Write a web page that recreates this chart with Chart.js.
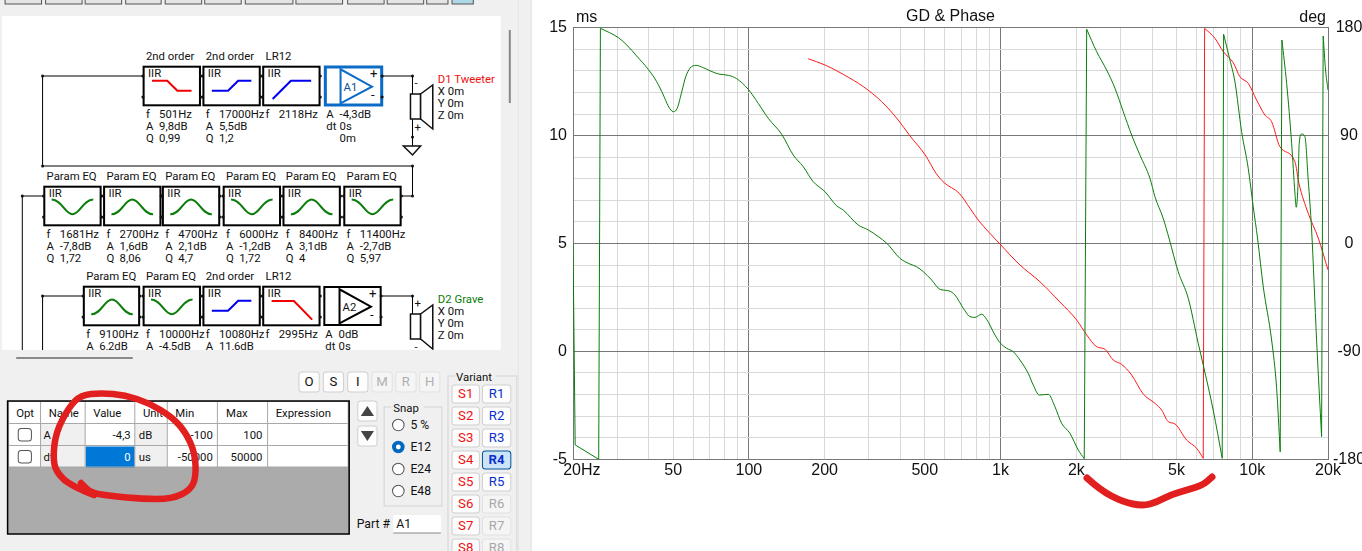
<!DOCTYPE html>
<html>
<head>
<meta charset="utf-8">
<title>GD & Phase</title>
<script src="https://cdn.jsdelivr.net/npm/chart.js@4"></script>
<style>
html,body{margin:0;padding:0;background:#fff;overflow:hidden;width:1362px;height:551px}
#panel{position:absolute;left:0;top:0;width:532px;height:551px}
#chart{position:absolute;left:532px;top:0}
#ink{position:absolute;left:0;top:0;width:1362px;height:551px;pointer-events:none}
text{font-family:Roboto,"Liberation Sans",Arial,sans-serif;font-size:11.2px;fill:#111}
</style>
</head>
<body>
<div id="panel"></div>
<canvas id="chart" width="830" height="551"></canvas>
<svg id="ink" viewBox="0 0 1362 551"></svg>
<script>
// ---------- chart data (frequency in Hz, phase in degrees) ----------
const greenFreq = [20,20.4,25.3,25.7,30.3,32.7,35.8,39.8,43,45.7,47.8,50.1,51.9,54.1,56.1,58.3,61.6,65.9,70,75.6,82.8,89.4,99.4,108.9,119.4,135,150,164.4,180.2,200.6,223,237,272,298,327,353,398,436,464,493,532,574,620,659,711,756,791,841,880,950,994,1057,1122,1194,1288,1348,1425,1547,1644,1748,1886,2035,2150,2199,2409,2639,2848,3072,3317,3578,3922,4106,4428,4678,5080,5568,6100,6386,6996,7598,7696,8154,8534,9074,9640,10090,10506,11060,11940,12500,12914,13120,13700,14340,14780,14956,15188,15372,15712,16192,16688,17216,18018,18860,19140,19560,20000];
const greenDeg = [0,-168,-180,179.5,171.7,165.6,156.4,145.3,135,123.9,114.7,109.9,112.8,126.6,139.1,146.1,148.6,146.6,144.1,141.4,140.3,137.5,128.6,116.9,104.4,91.1,73.8,64.1,51.5,43.2,31.5,27.9,15.4,11.3,5.7,0.2,-12.3,-17.1,-19.4,-23.5,-30.4,-38.2,-39.4,-43,-54,-61,-61.6,-59,-63.2,-76.3,-82.7,-87.4,-90.2,-97.2,-108.3,-118,-126.4,-125.8,-136.1,-150,-158.3,-172.2,-179.5,178.7,160,144.7,129.5,110,90.5,73.8,54.4,39,21,3.8,-23.5,-45.7,-83.2,-101.3,-138.9,-179.2,174.5,153.1,135,93.3,62.7,30.7,3.8,-36,-80.5,-120.8,-173.7,169.7,133.6,83.6,41.9,30.2,47.4,83.6,91.3,89.1,53,11.3,-80.5,-161.1,173,144.7,128];
const redFreq = [172,200.6,237,285,337,392,436,502,554,597,685,756,815,994,1194,1434,1721,2006,2199,2409,2598,2803,3027,3317,3688,4106,4364,4637,4930,5484,6012,6386,6468,7106,7670,8404,8934,9640,10406,11228,11940,12880,14780,15328,16688,18288,20000];
const redDeg = [154.1,148.9,141.1,130.8,118.3,103,89.9,73.8,58.6,50.7,41.9,29.4,19.6,-0.4,-17.9,-31.9,-48.8,-63.8,-76.3,-86.1,-88.2,-97.2,-100.8,-109.7,-125.5,-133.3,-138.9,-148.6,-150.5,-163.9,-170.8,-179.2,179.5,171.2,160,150.8,139.1,133.6,119.7,107.2,101.6,80.7,68.2,50.2,25.2,4.6,-22];
const xGridValues = [20,30,40,50,60,70,80,90,100,200,300,400,500,600,700,800,900,1000,2000,3000,4000,5000,6000,7000,8000,9000,10000,20000];
const xLabelValues = [20,50,100,200,500,1000,2000,5000,10000,20000];
const xLabels = ["    20Hz","50","100","200","500","1k","2k","5k","10k","20k"];
const leftTicks = [-5,0,5,10,15];
const rightTicks = [-180,-90,0,90,180];
const xDark = [100,1000,10000];

// a phase wrap is a big step between two neighbouring samples
const isWrap = (a,i) => Math.abs(a[i+1]-a[i]) > 120;
function curvePieces(f,d){ const o=[]; f.forEach((v,i)=>{ o.push({x:v,y:d[i]}); if(i<f.length-1&&isWrap(d,i)) o.push({x:(v+f[i+1])/2,y:null}); }); return o; }
function wrapLines(f,d){ const o=[]; f.forEach((v,i)=>{ if(i<f.length-1&&isWrap(d,i)) o.push({x:v,y:d[i]},{x:f[i+1],y:d[i+1]},{x:f[i+1]*1.0001,y:null}); }); return o; }

const GRID = '#d9d9d9', DARK = '#777777';
const GREEN = '#0a7d0a', RED = '#ff1a1a';
const ds = (data,c,mono) => ({data,borderColor:c,borderWidth:1,pointRadius:0,spanGaps:false,yAxisID:'y1',xAxisID:'x',
  ...(mono?{cubicInterpolationMode:'monotone'}:{tension:0})});

new Chart(document.getElementById('chart'), {
  type: 'line',
  data: { datasets: [
    ds(curvePieces(greenFreq,greenDeg),GREEN,true),
    ds(wrapLines(greenFreq,greenDeg),GREEN,false),
    ds(curvePieces(redFreq,redDeg),RED,true),
    ds(wrapLines(redFreq,redDeg),RED,false)
  ]},
  options: {
    responsive:false, animation:false, devicePixelRatio:1,
    layout:{padding:0},
    plugins:{
      legend:{display:false}, tooltip:{enabled:false},
      title:{display:true,text:'GD & Phase',fullSize:false,color:'#111',
        font:{family:'"Liberation Sans"',size:16,weight:'normal'},padding:{top:7,bottom:1.5}}
    },
    scales:{
      x:{type:'logarithmic',min:20,max:20000,
        afterBuildTicks:s=>{s.ticks=xGridValues.map(v=>({value:v}));},
        afterFit:s=>{s.height=91.7;},
        ticks:{autoSkip:false,maxRotation:0,minRotation:0,padding:2,color:'#111',
          font:{family:'"Liberation Sans"',size:16},
          callback:v=>{const i=xLabelValues.indexOf(v);return i<0?'':xLabels[i];}},
        grid:{drawTicks:false,lineWidth:1,color:c=>xDark.includes(c.tick&&c.tick.value)?DARK:GRID},
        border:{color:DARK}
      },
      y:{position:'left',min:-5,max:15,
        afterFit:s=>{s.width=41;},
        ticks:{stepSize:1,autoSkip:false,padding:6,color:'#111',
          font:{family:'"Liberation Sans"',size:16},
          callback:v=>leftTicks.includes(v)?String(v):''},
        grid:{drawTicks:false,lineWidth:1,color:c=>leftTicks.includes(c.tick&&c.tick.value)?DARK:GRID},
        border:{color:DARK}
      },
      y1:{position:'right',min:-180,max:180,
        afterFit:s=>{s.width=34;},
        ticks:{stepSize:18,autoSkip:false,padding:5,color:'#111',crossAlign:'center',
          font:{family:'"Liberation Sans"',size:16},
          callback:v=>rightTicks.includes(v)?String(v):''},
        grid:{drawOnChartArea:false,drawTicks:false},
        border:{color:DARK}
      }
    }
  },
  plugins:[{id:'units',afterDraw(c){
    const g=c.ctx,a=c.chartArea;
    g.save();g.fillStyle='#111';g.font='16px "Liberation Sans"';g.textBaseline='alphabetic';
    g.textAlign='left';g.fillText('ms',a.left+3,22);
    g.textAlign='right';g.fillText('deg',a.right-2,22);
    g.restore();
  }}]
});

// ---------- surrounding editor window (not chart data) ----------
const esc=s=>String(s).replace(/&/g,'&amp;').replace(/</g,'&lt;');
const T=(x,y,s,o={})=>`<text x="${x}" y="${y}" ${o.a?`text-anchor="${o.a}"`:''} style="${o.c?`fill:${o.c};`:''}${o.w?'font-weight:bold;':''}${o.z?`font-size:${o.z}px;`:''}">${esc(s)}</text>`;
const R=(x,y,w,h,f,s,sw=1,r=0)=>`<rect x="${x}" y="${y}" width="${w}" height="${h}" fill="${f}" stroke="${s}" stroke-width="${sw}" rx="${r}"/>`;
const L=(pts,c='#000',w=1)=>`<polyline points="${pts}" fill="none" stroke="${c}" stroke-width="${w}"/>`;
const D=(x,y)=>`<circle cx="${x}" cy="${y}" r="1.5" fill="#111"/>`;

function icon(k,x,y){
  const p=(a)=>a.map(q=>`${x+q[0]},${y+q[1]}`).join(' ');
  if(k==='sd')return L(p([[9,14.7],[24,14.7],[34,24.7],[48,24.7]]),'#f00000',2);
  if(k==='su')return L(p([[9,24.7],[25,24.7],[35,14.7],[48,14.7]]),'#0000f0',2);
  if(k==='hp')return L(p([[10,33],[28,14.7],[48,14.7]]),'#0000f0',2);
  if(k==='lp')return L(p([[9,15],[31,15],[49,33.6]]),'#f00000',2);
  const a=k==='dip'?13.6:28.3,b=k==='dip'?28.3:13.6;
  return `<path d="M${x+8},${y+a} C${x+18},${y+a} ${x+21},${y+b} ${x+28.5},${y+b} C${x+36},${y+b} ${x+39},${y+a} ${x+49},${y+a}" fill="none" stroke="#0a7d0a" stroke-width="2"/>`;
}
function block(x,y,w,title,k,lines){
  let s=T(x+3,y-6,title)+R(x+.7,y+.7,w-1.4,38.6,'#fff','#000',2)+T(x+5,y+11,'IIR')+icon(k,x,y);
  s+=D(x,y+10)+D(x,y+31)+D(x+w,y+10)+D(x+w,y+31);
  lines.forEach((l,i)=>{s+=T(x+3,y+52+i*12,l[0])+T(x+16,y+52+i*12,l[1]);});
  return s;
}
function amp(x,y,name,col,sw,lines){
  let s=R(x+1,y+1,55.6,38,'#fff',col,sw);
  s+=`<polygon points="${x+16},${y+3.3} ${x+16},${y+37.3} ${x+47},${y+20.7}" fill="#fff" stroke="${col}" stroke-width="2"/>`;
  s+=T(x+19,y+25,name,{c:col==='#000'?'#111':'#0b4f9c'})+T(x+45,y+12,'+',{z:13})+T(x+46,y+33,'-',{z:13});
  lines.forEach((l,i)=>{s+=T(x+2,y+52+i*12,l[0])+T(x+15,y+52+i*12,l[1]);});
  return s+D(x+57,y+10)+D(x+57,y+31);
}
function speaker(y,top,bot,name,col){
  let s=L(`407,${y} 407,${y+18}`)+R(405,y+18,10,25,'#fff','#111',1.5);
  s+=`<polygon points="415,${y+18} 427,${y+9} 427,${y+53} 415,${y+43}" fill="#fff" stroke="#111" stroke-width="1.5"/>`;
  s+=T(409,y+11,top)+T(409,y+55,bot);
  s+=T(432,y+7,name,{c:col})+T(432,y+19,'X 0m')+T(432,y+31,'Y 0m')+T(432,y+43,'Z 0m');
  return s;
}
function button(x,y,w,h,t,o={}){
  return R(x,y,w,h,o.f||'#fdfdfd',o.b||'#d0d0d0',1,3)+T(x+w/2,y+h/2+4.5,t,{a:'middle',c:o.c||'#111',w:o.w,z:13});
}
let s=`<svg xmlns="http://www.w3.org/2000/svg" width="532" height="551" viewBox="0 0 524.9 551" preserveAspectRatio="none">`;
s+=R(0,0,525,551,'#f0f0f0','none',0);
[[5,36],[45,36],[84,36],[124,35],[163,36],[202,36],[242,47],[292,46],[343,36],[382,36],[421,21]].forEach(b=>{s+=R(b[0],-3,b[1],7,'#e4e4e4','#555',1);});
s+=R(446,-3,21,7,'#add8e6','#555',1);
s+=R(2,16,492,334,'#fff','none',0);
s+=`<clipPath id="cl"><rect x="2" y="16" width="492" height="334"/></clipPath><g clip-path="url(#cl)">`;
// wires
s+=L('141,76 42,76 42,166 407,166 407,196 396,196')+L('43,196 22,196 22,352')+L('82,296 42,296 42,352');
s+=L('377,76 407,76')+L('376,296 407,296');
s+=L('407,119 407,146')+D(407,76)+D(407,137)+D(407,296)+D(42,76)+D(42,166)+D(407,166)+D(407,196)+D(22,196)+D(42,296);
s+=`<polygon points="398,146 415,146 407,155" fill="#fff" stroke="#111" stroke-width="1.5"/>`;
// row 1
s+=block(141,66,57,'2nd order','sd',[['f','501Hz'],['A','9,8dB'],['Q','0,99']]);
s+=block(200,66,57,'2nd order','su',[['f','17000Hz'],['A','5,5dB'],['Q','1,2']]);
s+=block(259,66,57,'LR12','hp',[['f','2118Hz']]);
s+=amp(320,66,'A1','#0b6cc8',3,[['A','-4,3dB'],['dt','0s'],['','0m']]);
s+=speaker(76,'-','+','D1 Tweeter','#f01010');
// row 2
[['dip','1681Hz','-7,8dB','1,72'],['peak','2700Hz','1,6dB','8,06'],['peak','4700Hz','2,1dB','4,7'],['dip','6000Hz','-1,2dB','1,72'],['peak','8400Hz','3,1dB','4'],['dip','11400Hz','-2,7dB','5,97']].forEach((b,i)=>{
  s+=block([43,102,160,220,279,339][i],186,57,'Param EQ',b[0],[['f',b[1]],['A',b[2]],['Q',b[3]]]);
});
// row 3
s+=block(82,286,56,'Param EQ','peak',[['f','9100Hz'],['A','6,2dB']]);
s+=block(141,286,57,'Param EQ','dip',[['f','10000Hz'],['A','-4,5dB']]);
s+=block(200,286,57,'2nd order','su',[['f','10080Hz'],['A','11,6dB']]);
s+=block(259,286,57,'LR12','lp',[['f','2995Hz']]);
s+=amp(319,286,'A2','#000',2,[['A','0dB'],['dt','0s']]);
s+=speaker(296,'+','-','D2 Grave','#0a7d0a');
s+=`</g>`;
// scrollbars
s+=R(502,30,2,73,'#8a8a8a','none',0)+R(16,357,115,2,'#8a8a8a','none',0)+R(511,0,1,551,'#e6e6e6','none',0)+R(523.5,0,1,551,'#e2e2e2','none',0);
// table
s+=R(7.5,401,337,133,'#ababab','#000',1.5)+R(9,402,334,65,'#fff','none',0);
s+=R(40,424,44,43,'#f0f0f0','none',0)+R(133,424,32,43,'#f0f0f0','none',0)+R(84.5,446.5,48.5,21,'#0078d7','none',0);
[40,84,133,165,214.5,264].forEach(x=>{s+=L(`${x},402 ${x},467`,'#a8a8a8');});
[423.5,445.5,467].forEach(y=>{s+=L(`9,${y} 343,${y}`,'#a8a8a8');});
[['Opt',16],['Name',48],['Value',92],['Unit',141],['Min',173],['Max',223],['Expression',272]].forEach(h=>{s+=T(h[1],417,h[0]);});
s+=T(43,439,'A')+T(43,461,'dt')+T(129,439,'-4,3',{a:'end'})+T(129,461,'0',{a:'end',c:'#fff'});
s+=T(137,439,'dB')+T(137,461,'us')+T(210,439,'-100',{a:'end'})+T(210,461,'-50000',{a:'end'})+T(259,439,'100',{a:'end'})+T(259,461,'50000',{a:'end'});
s+=R(18,428.5,13,12.5,'#fff','#555',1,3)+R(18,450.5,13,12.5,'#fff','#555',1,3);
// small buttons
['O','S','I'].forEach((t,i)=>{s+=button(295+24*i,372,20,20,t);});
['M','R','H'].forEach((t,i)=>{s+=button(367+23.5*i,372,20,20,t,{c:'#b0b0b0',f:'#f5f5f5',b:'#e2e2e2'});});
s+=R(353,401,19,20,'#fdfdfd','#d0d0d0',1,3)+R(353,426,19,20,'#fdfdfd','#d0d0d0',1,3);
s+=`<polygon points="356,416 369,416 362.5,406" fill="#444"/><polygon points="356,431 369,431 362.5,441" fill="#444"/>`;
// snap
s+=R(379,407,57,99,'none','#d4d4d4',1)+R(386,404,32,8,'#f0f0f0','none',0)+T(388,412,'Snap');
['5 %','E12','E24','E48'].forEach((t,i)=>{const y=425+22*i;
  s+=`<circle cx="393" cy="${y}" r="5.7" fill="${i===1?'#0067c0':'#fff'}" stroke="${i===1?'#0067c0':'#555'}"/>`;
  if(i===1)s+=`<circle cx="393" cy="${y}" r="2.4" fill="#fff"/>`;
  s+=T(405,y+4.5,t,{z:12});});
s+=T(352,528,'Part #',{z:12})+R(388,515,47,18,'#fff','none',0)+L('388,533 435,533','#888')+T(391,528,'A1',{z:12});
// variant
s+=R(442,376,68,190,'none','#d4d4d4',1)+R(449,372,40,8,'#f0f0f0','none',0)+T(450,381,'Variant');
for(let i=0;i<8;i++){const y=385+22*i;
  s+=button(446,y,27,18,'S'+(i+1),{c:'#f01010'});
  const dis=i>=5,sel=i===3;
  s+=button(476,y,28,18,'R'+(i+1),dis?{c:'#a8a8a8',f:'#f5f5f5',b:'#e2e2e2'}:sel?{c:'#0a2fd0',f:'#cce4f7',b:'#005499',w:true}:{c:'#0a2fd0'});
}
s+=`</svg>`;
document.getElementById('panel').innerHTML=s;

// ---------- red marker scribbles ----------
const scribble=(p,w)=>{let d=`M${p[0][0]},${p[0][1]}`;
  for(let i=1;i<p.length-1;i++){const mx=(p[i][0]+p[i+1][0])/2,my=(p[i][1]+p[i+1][1])/2;d+=` Q${p[i][0]},${p[i][1]} ${mx},${my}`;}
  const e=p[p.length-1];d+=` L${e[0]},${e[1]}`;
  return `<path d="${d}" fill="none" stroke="#e21f1f" stroke-width="${w}" stroke-linecap="round" stroke-linejoin="round"/>`;};
document.getElementById('ink').innerHTML=
  scribble([[94,495],[71,486],[56,472],[53,457],[56,432],[69,407],[81,395],[101,393],[125,395],[149,403],[172,417],[185.5,432],[195,453],[196,477],[190.5,490],[172,499],[142,499],[111.5,496],[91,493],[81,483]],6.5)+
  scribble([[1087,478],[1100,490],[1123,502],[1143,506],[1157,502],[1170,495],[1187,490],[1203,485],[1212,477]],7);
</script>
</body>
</html>
